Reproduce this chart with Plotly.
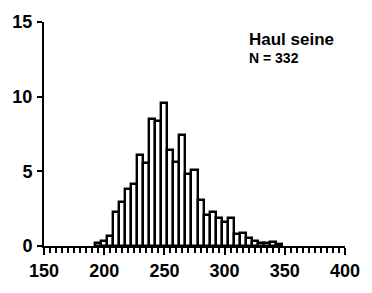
import plotly.graph_objects as go

# Length classes (mm, bin centres) and percent frequency
length_mm = [195, 200, 205, 210, 215, 220, 225, 230, 235, 240, 245, 250, 255, 260,
             265, 270, 275, 280, 285, 290, 295, 300, 305, 310, 315, 320, 325, 330,
             335, 340, 345]
percent = [0.2, 0.35, 0.65, 2.3, 2.95, 3.8, 4.15, 6.1, 5.55, 8.5, 8.35, 9.6, 6.45, 5.65,
           7.45, 4.8, 5.1, 3.1, 2.05, 2.3, 1.85, 1.6, 1.9, 0.8, 0.85, 0.55, 0.35, 0.2,
           0.2, 0.25, 0.15]

x_ticks = [150, 200, 250, 300, 350, 400]
y_ticks = [0, 5, 10, 15]
label_title = "Haul seine"
label_n = "N = 332"

fig = go.Figure()
fig.add_trace(go.Bar(
    x=length_mm, y=percent, width=5,
    marker=dict(color="white", line=dict(color="black", width=2.4)),
    hoverinfo="x+y",
))

tickfont = dict(family="Liberation Sans, Arial, sans-serif", size=18, color="black", weight="bold")

fig.update_layout(
    width=372, height=293,
    margin=dict(l=42, r=19, t=16, b=40),
    paper_bgcolor="white", plot_bgcolor="white",
    showlegend=False, bargap=0,
    xaxis=dict(
        range=[150, 400], tickvals=x_ticks, ticktext=[str(v) for v in x_ticks],
        showline=True, linecolor="black", linewidth=2,
        ticks="outside", ticklen=7, tickwidth=2, tickcolor="black",
        minor=dict(dtick=5, tick0=150, ticks="outside", ticklen=5, tickwidth=1.5, tickcolor="black"),
        showgrid=False, zeroline=False, tickfont=tickfont,
        ticklabeloverflow="allow", ticklabelstandoff=0,
    ),
    yaxis=dict(
        range=[0, 15], tickvals=y_ticks, ticktext=[str(v) for v in y_ticks],
        showline=True, linecolor="black", linewidth=2,
        ticks="outside", ticklen=5, tickwidth=2, tickcolor="black",
        showgrid=False, zeroline=False, tickfont=tickfont, ticklabelstandoff=1,
    ),
    annotations=[
        dict(x=319, y=13.85, xref="x", yref="y", text=label_title, showarrow=False,
             xanchor="left", yanchor="middle",
             font=dict(family="Liberation Sans, Arial, sans-serif", size=17, color="black", weight="bold")),
        dict(x=319, y=12.6, xref="x", yref="y", text=label_n, showarrow=False,
             xanchor="left", yanchor="middle",
             font=dict(family="Liberation Sans, Arial, sans-serif", size=14, color="black", weight="bold")),
    ],
)

fig.write_html(
    "out.html",
    config={"displayModeBar": False},
    post_script="document.body.style.margin='0';document.body.style.overflow='hidden';",
)
